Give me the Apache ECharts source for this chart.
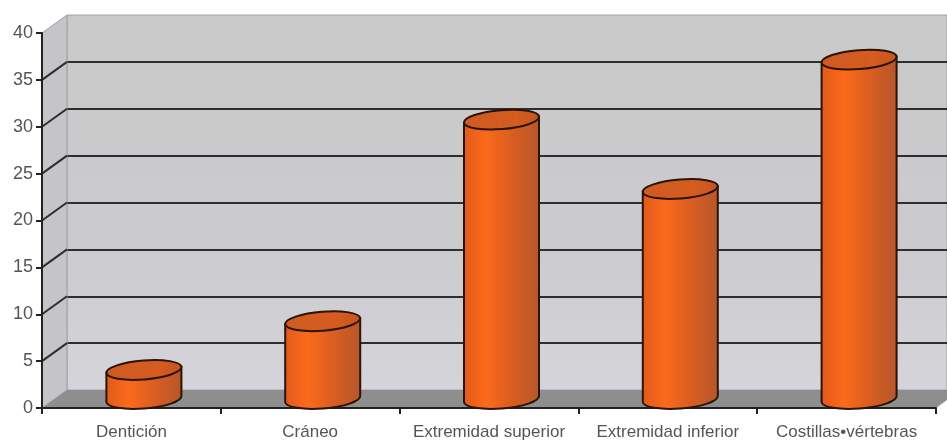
<!DOCTYPE html>
<html><head><meta charset="utf-8">
<style>html,body{margin:0;padding:0;background:#fff}#c{width:947px;height:443px;filter:blur(0.7px)}</style>
<script src="https://cdn.jsdelivr.net/npm/echarts@6/dist/echarts.min.js"></script>
</head><body><div id="c"></div>
<script>
const categories = ['Dentición','Cráneo','Extremidad superior','Extremidad inferior','Costillas•vértebras'];
const values = [3.1, 8.3, 29.8, 22.4, 36.2];
const yTicks = [5,10,15,20,25,30,35];
const DX = 25, DY = -18, HALF_W = 37.5, TILT = 3, RY = 9.5, TILT_DEG = -4.6;

const chart = echarts.init(document.getElementById('c'), null, {renderer:'canvas'});
const labelStyle = {color:'#555555', fontFamily:'Liberation Sans', fontSize:17};
const bodyFill = new echarts.graphic.LinearGradient(0,0,1,0,[
  {offset:0,color:'#e0591c'},{offset:0.3,color:'#fb6a1c'},{offset:0.6,color:'#dd5f20'},{offset:1,color:'#b5562c'}]);
const capFill = new echarts.graphic.LinearGradient(0,0,1,0,[
  {offset:0,color:'#cf5a22'},{offset:0.7,color:'#d65c20'},{offset:1,color:'#c4531f'}]);

chart.setOption({
  animation:false,
  backgroundColor:'#fff',
  grid:[
    {left:42, top:33, width:894, height:375},
    {left:67, top:15, width:894, height:375, show:true, borderWidth:1, borderColor:'#a4a4a6',
      backgroundColor:new echarts.graphic.LinearGradient(0,0,0,1,[
        {offset:0,color:'#c9c9c9'},{offset:0.6,color:'#cbcbce'},{offset:1,color:'#d4d4da'}])}
  ],
  xAxis:[
    {gridIndex:0,type:'category',data:categories,z:5,
      axisLine:{lineStyle:{color:'#222',width:2}},
      axisTick:{show:true,alignWithLabel:false,length:6,lineStyle:{color:'#222',width:2}},
      axisLabel:{...labelStyle,margin:16,interval:0}},
    {gridIndex:1,type:'category',data:categories,show:false}
  ],
  yAxis:[
    {gridIndex:0,type:'value',min:0,max:40,interval:5,z:5,
      axisLine:{show:true,lineStyle:{color:'#222',width:2}},
      axisTick:{show:true,length:6,lineStyle:{color:'#222',width:2}},
      axisLabel:{...labelStyle,fontSize:18,margin:9},
      splitLine:{show:false}},
    {gridIndex:1,type:'value',min:0,max:40,interval:5,
      axisLine:{show:false},axisTick:{show:false},axisLabel:{show:false},
      splitLine:{show:true,showMinLine:false,showMaxLine:false,lineStyle:{color:'#2e2e2e',width:2}}}
  ],
  series:[
    {type:'custom',xAxisIndex:0,yAxisIndex:0,z:2,silent:true,clip:false,data:[0],
     renderItem(p,api){
       const g=p.coordSys, bottom=g.y+g.height, right=g.x+g.width;
       return {type:'group',children:[
         {type:'polygon',shape:{points:[[g.x,g.y],[g.x+DX,g.y+DY],[g.x+DX,bottom+DY],[g.x,bottom]]},
          style:{fill:'#c4c4c9',stroke:'#a0a0a4',lineWidth:1}},
         {type:'polygon',shape:{points:[[g.x,bottom],[g.x+DX,bottom+DY],[right+DX,bottom+DY],[right,bottom]]},
          style:{fill:'#8e8e8e',stroke:null}}
       ]};
     }},
    {type:'custom',xAxisIndex:0,yAxisIndex:0,z:3,silent:true,clip:false,data:yTicks.map(v=>[0,v]),
     renderItem(p,api){
       const g=p.coordSys, y=api.coord([0,api.value(1)])[1];
       return {type:'line',shape:{x1:g.x,y1:y,x2:g.x+DX,y2:y+DY},style:{stroke:'#2e2e2e',lineWidth:2}};
     }},
    {type:'custom',xAxisIndex:0,yAxisIndex:0,z:6,silent:true,clip:false,
     data:values.map((v,i)=>[i,v]),
     renderItem(p,api){
       const c=api.coord([api.value(0),api.value(1)]), z=api.coord([api.value(0),0]);
       const cx=c[0]+DX/2, ty=c[1]+DY/2, by=z[1]+DY/2;
       const l=cx-HALF_W, r=cx+HALF_W, rx=Math.hypot(HALF_W,TILT);
       const arc=(x,y,large,sweep)=>`A ${rx} ${RY} ${TILT_DEG} ${large} ${sweep} ${x} ${y}`;
       const body=`M ${l} ${ty+TILT} L ${l} ${by+TILT} ${arc(r,by-TILT,0,0)} L ${r} ${ty-TILT} Z`;
       const cap=`M ${l} ${ty+TILT} ${arc(r,ty-TILT,0,1)} ${arc(l,ty+TILT,0,1)} Z`;
       return {type:'group',children:[
         {type:'path',shape:{pathData:body},style:{fill:bodyFill,stroke:'#2a1408',lineWidth:2}},
         {type:'path',shape:{pathData:cap},style:{fill:capFill,stroke:'#2a1408',lineWidth:2}}
       ]};
     }}
  ]
});
</script></body></html>
